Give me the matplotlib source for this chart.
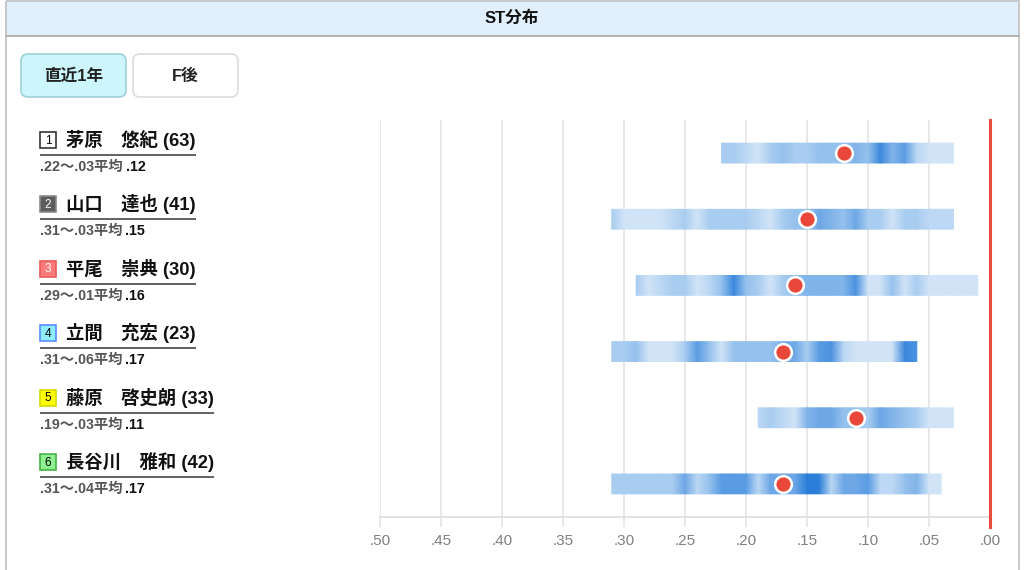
import matplotlib
matplotlib.use('Agg')
import matplotlib.pyplot as plt
import numpy as np
from matplotlib.colors import LinearSegmentedColormap, Normalize
from matplotlib.patches import Rectangle, FancyBboxPatch
from matplotlib.ticker import FuncFormatter

plt.rcParams['font.family'] = ['Liberation Sans', 'Noto Sans CJK JP', 'DejaVu Sans']

# data
names = ['茅原　悠紀', '山口　達也', '平尾　崇典', '立間　充宏', '藤原　啓史朗', '長谷川　雅和']
races = [63, 41, 30, 23, 33, 42]
st_slow = [0.22, 0.31, 0.29, 0.31, 0.19, 0.31]
st_fast = [0.03, 0.03, 0.01, 0.06, 0.03, 0.04]
st_avg = [0.12, 0.15, 0.16, 0.17, 0.11, 0.17]

# density of starts per 0.01, from slowest ST to fastest ST
density_1 = [3, 3, 2, 1, 3, 4, 3, 3, 4, 4, 4, 5, 4, 9, 5, 7, 2, 1, 1, 1]
density_2 = [3, 1, 1, 1, 1, 2, 3, 1, 3, 3, 3, 3, 2, 1, 3, 4, 4, 6, 5, 4, 6, 3, 3, 1, 3, 3, 2, 2, 2]
density_3 = [3, 1, 2, 3, 3, 1, 2, 4, 9, 4, 3, 1, 3, 4, 5, 5, 5, 5, 8, 1, 1, 4, 1, 3, 1, 1, 1, 1, 1]
density_4 = [3, 3, 4, 1, 1, 1, 3, 7, 4, 1, 4, 4, 4, 4, 5, 6, 3, 7, 8, 2, 1, 1, 1, 1, 9, 8]
density_5 = [2, 3, 2, 1, 5, 6, 6, 4, 4, 3, 6, 5, 4, 3, 1, 1, 1]
density_6 = [3, 3, 3, 3, 3, 3, 6, 2, 4, 7, 7, 7, 2, 6, 6, 6, 10, 10, 2, 6, 6, 7, 2, 2, 4, 5, 1, 1]
densities = [density_1, density_2, density_3, density_4, density_5, density_6]

ticks = [0.50, 0.45, 0.40, 0.35, 0.30, 0.25, 0.20, 0.15, 0.10, 0.05, 0.00]
buttons = ['直近1年', 'F後']

box_face = ['#ffffff', '#5c5c5c', '#ff7b7b', '#8eeeff', '#ffff00', '#8ef08e']
box_edge = ['#333333', '#8a8a8a', '#e85a5a', '#5a8cff', '#d8d800', '#44b044']
box_text = ['#000000', '#ffffff', '#ffffff', '#000000', '#000000', '#000000']

W, H = 1024, 570
fig = plt.figure(figsize=(W / 100, H / 100), dpi=100)

# background layer in pixel coordinates
bg = fig.add_axes([0, 0, 1, 1])
bg.set_xlim(0, W)
bg.set_ylim(H, 0)
bg.axis('off')

bg.add_patch(Rectangle((6, 1), 1013, 35, facecolor='#e1f0fc', edgecolor='none'))
bg.plot([6, 1019], [36, 36], color='#b4b4b4', lw=1.5)
bg.add_patch(Rectangle((6, 1), 1013, 580, facecolor='none', edgecolor='#c4c4c4', lw=1.3))
bg.text(512, 18, 'ST分布', ha='center', va='center', fontsize=12, fontweight='bold', color='#111111')

btn_x = [21, 133]
btn_face = ['#ccf6fb', '#ffffff']
btn_edge = ['#9fd0d8', '#dcdcdc']
for i, label in enumerate(buttons):
    bg.add_patch(FancyBboxPatch((btn_x[i], 54), 105, 43, boxstyle='round,pad=0,rounding_size=7',
                                facecolor=btn_face[i], edgecolor=btn_edge[i], lw=1.2))
    bg.text(btn_x[i] + 52.5, 76, label, ha='center', va='center', fontsize=12,
            fontweight='bold', color='#222222')

fig.canvas.draw()
renderer = fig.canvas.get_renderer()

for i, name in enumerate(names):
    yc = 140 + 64.4 * i
    bg.add_patch(Rectangle((40, yc - 8), 16, 16, facecolor=box_face[i], edgecolor=box_edge[i], lw=1.2))
    bg.text(48, yc + 0.5, str(i + 1), ha='center', va='center', fontsize=8.5, color=box_text[i])
    t = bg.text(66, yc, f'{name} ({races[i]})', ha='left', va='center', fontsize=13.2,
                fontweight='bold', color='#111111')
    x_end = t.get_window_extent(renderer).x1
    bg.plot([40, x_end], [yc + 15, yc + 15], color='#555555', lw=1.3, solid_capstyle='butt')
    sy = yc + 27
    s1 = bg.text(40, sy, f'{st_slow[i]:.2f}'[1:] + '〜' + f'{st_fast[i]:.2f}'[1:] + '平均',
                 ha='left', va='center', fontsize=10.3, fontweight='bold', color='#555555')
    x2 = s1.get_window_extent(renderer).x1 + 3
    bg.text(x2, sy, f'{st_avg[i]:.2f}'[1:], ha='left', va='center', fontsize=10.3,
            fontweight='bold', color='#111111')

# chart
ax = fig.add_axes([380 / W, (H - 517) / H, 610 / W, 397 / H])
ax.set_facecolor('none')

cmap = LinearSegmentedColormap.from_list('st', ['#e4effb', '#a2c9ef', '#609fe4', '#2b7fd9'])
norm = Normalize(vmin=0, vmax=10)
bar_h = 0.30
for i, d in enumerate(densities):
    y = i + 0.5
    xs = st_slow[i] - 0.01 * np.arange(len(d))
    X = np.vstack([xs, xs])
    Y = np.vstack([np.full(len(d), y - bar_h / 2), np.full(len(d), y + bar_h / 2)])
    C = np.vstack([d, d]).astype(float)
    ax.pcolormesh(X, Y, C, shading='gouraud', cmap=cmap, norm=norm, zorder=2)
    ax.plot(st_avg[i], y, 'o', color='#e8473a', mec='white', mew=1.8, ms=12, zorder=5)

ax.axvline(0, ymin=-0.025, ymax=1, color='#e74c3c', lw=2.2, clip_on=False, zorder=4)

ax.set_xlim(0.5, 0.0)
ax.set_ylim(len(names), 0)
ax.set_xticks(ticks)
ax.xaxis.set_major_formatter(FuncFormatter(lambda v, p: f'{v:.2f}'[1:]))
ax.set_yticks([])
ax.grid(axis='x', color='#e6e6e6', lw=1.3, zorder=0)
ax.set_axisbelow(True)
ax.tick_params(axis='x', length=7.2, width=1.3, color='#e6e6e6', labelcolor='#808080',
               labelsize=11, pad=5)
for side in ['top', 'left', 'right']:
    ax.spines[side].set_visible(False)
ax.spines['bottom'].set_color('#e0e0e0')
ax.spines['bottom'].set_linewidth(1.3)

fig.savefig('out.png', dpi=100)
